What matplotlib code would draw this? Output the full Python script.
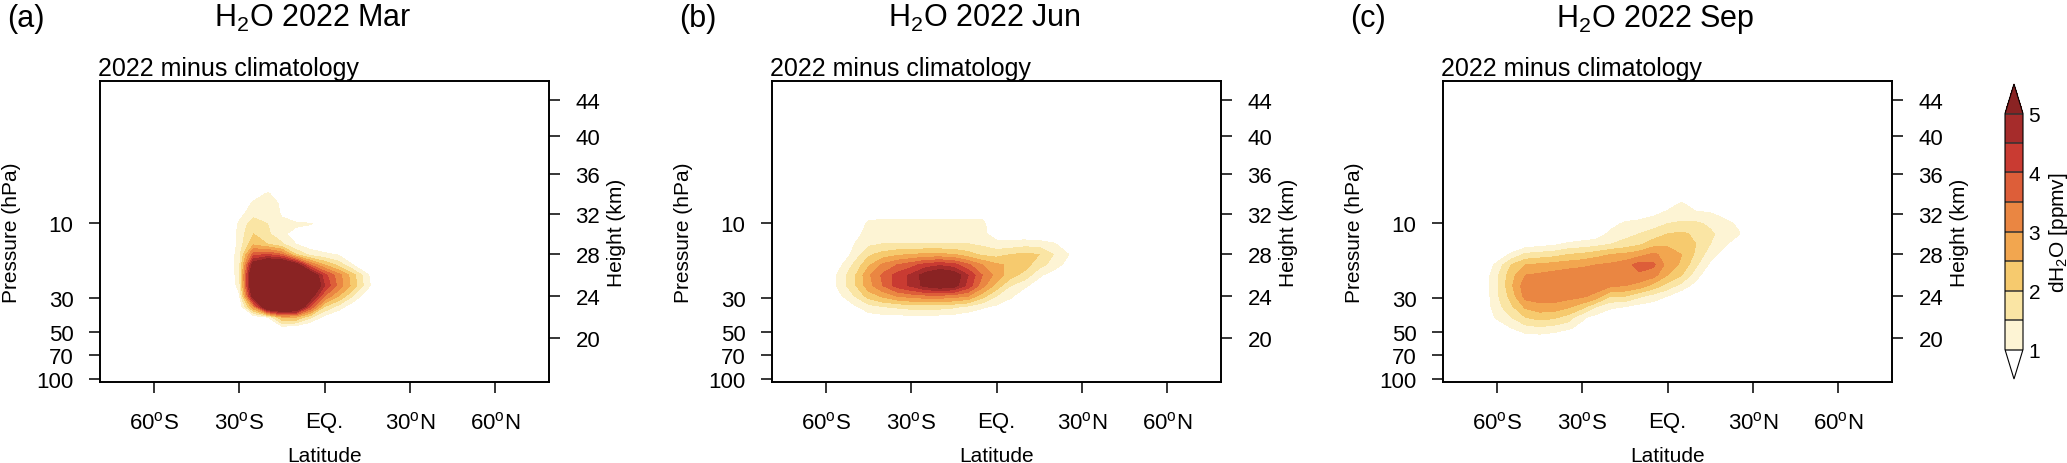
import numpy as np
import matplotlib
matplotlib.use('Agg')
import matplotlib.pyplot as plt
from matplotlib.colors import ListedColormap
from matplotlib.ticker import NullLocator

plt.rcParams['font.family'] = ['Liberation Sans', 'DejaVu Sans']
plt.rcParams['mathtext.fontset'] = 'custom'
plt.rcParams['mathtext.rm'] = 'Liberation Sans'
plt.rcParams['mathtext.it'] = 'Liberation Sans:italic'
plt.rcParams['mathtext.bf'] = 'Liberation Sans:bold'

# grid of the anomaly fields (ppmv): latitude columns, height rows (km, bottom to top)
lats = np.arange(-70, 40, 5)
heights = np.arange(19, 36)

# columns: -70 -65 -60 -55 -50 -45 -40 -35 -30 -25 -20 -15 -10 -5 0 5 10 15 20 25 30 35
dh2o_mar = [
    [0, 0, 0, 0, 0, 0, 0, 0, 0, 0, 0, 0, 0, 0, 0, 0, 0, 0, 0, 0, 0, 0],
    [0, 0, 0, 0, 0, 0, 0, 0, 0, 0, 0, 0, 0, 0, 0, 0, 0, 0, 0, 0, 0, 0],
    [0, 0, 0, 0, 0, 0, 0, 0, 0, 0, 0.3, 0.7, 0.6, 0.3, 0, 0, 0, 0, 0, 0, 0, 0],
    [0, 0, 0, 0, 0, 0, 0, 0, 0.2, 0.6, 1.0, 2.5, 2.5, 1.6, 0.8, 0.4, 0, 0, 0, 0, 0, 0],
    [0, 0, 0, 0, 0, 0, 0, 0, 0.5, 3.0, 6.5, 7.0, 6.5, 4.0, 2.0, 1.3, 0.6, 0.2, 0, 0, 0, 0],
    [0, 0, 0, 0, 0, 0, 0, 0.2, 0.9, 5.5, 8.0, 8.0, 7.5, 5.5, 3.5, 2.5, 1.5, 0.6, 0, 0, 0, 0],
    [0, 0, 0, 0, 0, 0, 0, 0.3, 1.2, 6.5, 8.0, 8.0, 8.0, 6.5, 4.5, 3.3, 2.3, 1.2, 0.3, 0, 0, 0],
    [0, 0, 0, 0, 0, 0, 0, 0.3, 1.3, 6.5, 8.0, 8.0, 7.5, 6.0, 4.2, 3.2, 2.2, 1.1, 0.3, 0, 0, 0],
    [0, 0, 0, 0, 0, 0, 0, 0.3, 1.3, 5.5, 6.5, 6.5, 5.5, 3.5, 2.5, 1.8, 1.0, 0.4, 0, 0, 0, 0],
    [0, 0, 0, 0, 0, 0, 0, 0.3, 1.3, 3.8, 4.0, 3.5, 2.0, 1.3, 1.1, 0.95, 0.5, 0, 0, 0, 0, 0],
    [0, 0, 0, 0, 0, 0, 0, 0.2, 1.2, 2.4, 2.0, 1.6, 1.0, 0.7, 0.6, 0.4, 0, 0, 0, 0, 0, 0],
    [0, 0, 0, 0, 0, 0, 0, 0.2, 1.2, 2.0, 1.6, 1.1, 0.8, 0.5, 0.3, 0, 0, 0, 0, 0, 0, 0],
    [0, 0, 0, 0, 0, 0, 0, 0.2, 1.1, 1.8, 1.5, 1.1, 1.1, 1.05, 0.7, 0, 0, 0, 0, 0, 0, 0],
    [0, 0, 0, 0, 0, 0, 0, 0, 0.8, 1.3, 1.3, 0.95, 0.5, 0, 0, 0, 0, 0, 0, 0, 0, 0],
    [0, 0, 0, 0, 0, 0, 0, 0, 0.5, 1.1, 1.3, 0.9, 0.3, 0, 0, 0, 0, 0, 0, 0, 0, 0],
    [0, 0, 0, 0, 0, 0, 0, 0, 0, 0.7, 1.05, 0.7, 0, 0, 0, 0, 0, 0, 0, 0, 0, 0],
    [0, 0, 0, 0, 0, 0, 0, 0, 0, 0, 0.5, 0, 0, 0, 0, 0, 0, 0, 0, 0, 0, 0],
]

dh2o_jun = [
    [0, 0, 0, 0, 0, 0, 0, 0, 0, 0, 0, 0, 0, 0, 0, 0, 0, 0, 0, 0, 0, 0],
    [0, 0, 0, 0, 0, 0, 0, 0, 0, 0, 0, 0, 0, 0, 0, 0, 0, 0, 0, 0, 0, 0],
    [0, 0, 0, 0, 0, 0, 0, 0, 0, 0, 0, 0, 0, 0, 0, 0, 0, 0, 0, 0, 0, 0],
    [0, 0, 0, 0, 0.3, 0.75, 0.8, 0.8, 0.85, 0.85, 0.8, 0.75, 0.6, 0.5, 0.3, 0.1, 0, 0, 0, 0, 0, 0],
    [0, 0, 0, 0.6, 0.9, 1.3, 1.5, 1.6, 1.7, 1.7, 1.7, 1.6, 1.4, 1.1, 0.9, 0.6, 0.3, 0, 0, 0, 0, 0],
    [0, 0, 0.2, 0.9, 1.5, 2.2, 2.6, 3.0, 3.2, 3.3, 3.3, 3.2, 3.0, 2.2, 1.5, 1.1, 0.6, 0.3, 0, 0, 0, 0],
    [0, 0, 0.4, 1.2, 1.9, 2.8, 3.5, 4.2, 4.6, 5.2, 5.5, 5.3, 4.3, 3.2, 2.3, 1.5, 1.1, 0.7, 0.3, 0, 0, 0],
    [0, 0, 0.4, 1.2, 1.9, 2.9, 3.6, 4.2, 4.6, 5.3, 5.8, 5.5, 4.5, 3.5, 2.8, 2.2, 1.8, 1.1, 0.7, 0.3, 0, 0],
    [0, 0, 0.3, 0.9, 1.6, 2.4, 3.1, 3.5, 3.8, 4.2, 4.4, 4.2, 3.6, 3.0, 2.6, 2.4, 2.2, 1.7, 1.3, 0.8, 0.2, 0],
    [0, 0, 0, 0.5, 1.2, 1.9, 2.2, 2.4, 2.5, 2.6, 2.6, 2.5, 2.2, 1.9, 1.8, 2.0, 2.1, 2.0, 1.5, 1.05, 0.3, 0],
    [0, 0, 0, 0.3, 1.0, 1.4, 1.52, 1.52, 1.52, 1.52, 1.52, 1.52, 1.52, 1.4, 1.2, 1.2, 1.3, 1.3, 1.1, 0.6, 0, 0],
    [0, 0, 0, 0, 0.8, 1.2, 1.25, 1.25, 1.25, 1.25, 1.25, 1.25, 1.25, 1.15, 0.7, 0.7, 0.6, 0.5, 0.3, 0, 0, 0],
    [0, 0, 0, 0, 0.6, 1.1, 1.15, 1.15, 1.15, 1.15, 1.15, 1.15, 1.15, 1.15, 0.5, 0, 0, 0, 0, 0, 0, 0],
    [0, 0, 0, 0, 0.3, 0.8, 0.8, 0.8, 0.8, 0.8, 0.8, 0.8, 0.8, 0.8, 0.3, 0, 0, 0, 0, 0, 0, 0],
    [0, 0, 0, 0, 0, 0, 0, 0, 0, 0, 0, 0, 0, 0, 0, 0, 0, 0, 0, 0, 0, 0],
    [0, 0, 0, 0, 0, 0, 0, 0, 0, 0, 0, 0, 0, 0, 0, 0, 0, 0, 0, 0, 0, 0],
    [0, 0, 0, 0, 0, 0, 0, 0, 0, 0, 0, 0, 0, 0, 0, 0, 0, 0, 0, 0, 0, 0],
]

dh2o_sep = [
    [0, 0, 0, 0, 0, 0, 0, 0, 0, 0, 0, 0, 0, 0, 0, 0, 0, 0, 0, 0, 0, 0],
    [0, 0, 0, 0.4, 0.7, 0.7, 0.6, 0.4, 0.2, 0, 0, 0, 0, 0, 0, 0, 0, 0, 0, 0, 0, 0],
    [0, 0.2, 0.6, 1.0, 1.3, 1.4, 1.3, 1.1, 0.8, 0.5, 0.2, 0, 0, 0, 0, 0, 0, 0, 0, 0, 0, 0],
    [0, 0.5, 1.1, 1.5, 2.0, 2.2, 2.1, 1.8, 1.1, 0.8, 0.6, 0.4, 0.2, 0, 0, 0, 0, 0, 0, 0, 0, 0],
    [0, 0.6, 1.3, 1.9, 2.6, 2.8, 2.8, 2.6, 2.2, 1.5, 1.1, 1.0, 0.8, 0.7, 0.4, 0, 0, 0, 0, 0, 0, 0],
    [0, 0.6, 1.4, 2.2, 3.2, 3.3, 3.3, 3.2, 3.1, 2.8, 2.0, 2.0, 1.6, 1.3, 1.0, 0.6, 0, 0, 0, 0, 0, 0],
    [0, 0.6, 1.4, 2.4, 3.3, 3.4, 3.4, 3.4, 3.4, 3.3, 3.1, 3.0, 2.8, 2.3, 1.8, 1.3, 0.8, 0, 0, 0, 0, 0],
    [0, 0.6, 1.4, 2.3, 3.0, 3.1, 3.2, 3.3, 3.3, 3.3, 3.4, 3.4, 3.4, 3.2, 2.5, 2.0, 1.2, 0.6, 0, 0, 0, 0],
    [0, 0.5, 1.15, 2.0, 2.5, 2.6, 2.7, 2.8, 2.9, 3.0, 3.1, 3.3, 3.7, 3.6, 2.8, 2.4, 1.6, 0.9, 0, 0, 0, 0],
    [0, 0.2, 0.6, 1.1, 1.6, 1.7, 1.8, 2.0, 2.1, 2.3, 2.5, 2.6, 2.8, 3.1, 2.8, 2.5, 1.9, 1.2, 0.8, 0, 0, 0],
    [0, 0, 0.2, 0.5, 0.7, 0.8, 0.9, 1.1, 1.2, 1.3, 1.5, 1.7, 1.9, 2.3, 2.4, 2.4, 2.0, 1.5, 1.1, 0.6, 0, 0],
    [0, 0, 0, 0, 0, 0, 0, 0.5, 0.6, 0.7, 1.15, 1.3, 1.5, 1.7, 2.0, 2.1, 1.9, 1.6, 1.3, 1.05, 0.5, 0],
    [0, 0, 0, 0, 0, 0, 0, 0, 0, 0, 0.8, 1.1, 1.2, 1.3, 1.5, 1.6, 1.6, 1.4, 1.2, 0.9, 0.3, 0],
    [0, 0, 0, 0, 0, 0, 0, 0, 0, 0, 0, 0.6, 0.7, 0.9, 1.1, 1.2, 1.1, 1.05, 0.8, 0.4, 0, 0],
    [0, 0, 0, 0, 0, 0, 0, 0, 0, 0, 0, 0, 0, 0, 0.8, 1.05, 0.7, 0.5, 0, 0, 0, 0],
    [0, 0, 0, 0, 0, 0, 0, 0, 0, 0, 0, 0, 0, 0, 0, 0.4, 0, 0, 0, 0, 0, 0],
    [0, 0, 0, 0, 0, 0, 0, 0, 0, 0, 0, 0, 0, 0, 0, 0, 0, 0, 0, 0, 0, 0],
]

panel_letters = ['(a)', '(b)', '(c)']
panel_months = ['Mar', 'Jun', 'Sep']
fields = [dh2o_mar, dh2o_jun, dh2o_sep]

levels = [1, 1.5, 2, 2.5, 3, 3.5, 4, 4.5, 5]
colors = ['#FDF4D4', '#FAE5A4', '#F6CA6E', '#F2A64F',
          '#EA8642', '#DD5E39', '#C93B32', '#A62C2B']
over_color = '#8A2323'

lat_ticks = [-60, -30, 0, 30, 60]
lat_labels = [r'60$^{\mathrm{o}}$S', r'30$^{\mathrm{o}}$S', 'EQ.',
              r'30$^{\mathrm{o}}$N', r'60$^{\mathrm{o}}$N']
p_ticks = [10, 30, 50, 70, 100]
z_ticks = [20, 24, 28, 32, 36, 40, 44]


# US standard atmosphere, pressure (hPa) at height z (km)
def std_pressure(z):
    z = np.asarray(z, dtype=float)
    p_low = 226.32 * np.exp(-34.1632 * (z - 11) / 216.65)
    p_mid = 54.7489 * (1 + (z - 20) / 216.65) ** (-34.1632)
    p_top = 8.68019 * (1 + 2.8 * (z - 32) / 228.65) ** (-34.1632 / 2.8)
    return np.where(z < 20, p_low, np.where(z <= 32, p_mid, p_top))


cmap = ListedColormap(colors)
cmap.set_under('white')
cmap.set_over(over_color)

W, H = 2067, 464
fig = plt.figure(figsize=(W / 100, H / 100), dpi=100)

ax_lefts = [100, 772, 1443]
ax_w, ax_bottom, ax_h = 449, 81, 301
pres = std_pressure(heights)

for i in range(3):
    left = ax_lefts[i]
    ax = fig.add_axes([left / W, ax_bottom / H, ax_w / W, ax_h / H])
    cs = ax.contourf(lats, pres, np.array(fields[i]), levels=levels,
                     cmap=cmap, extend='both')
    ax.set_yscale('log')
    ax.set_ylim(104, 1.23)
    ax.set_xlim(-79, 79)
    ax.set_xticks(lat_ticks)
    ax.set_xticklabels(lat_labels)
    ax.set_yticks(p_ticks)
    ax.set_yticklabels([str(p) for p in p_ticks])
    ax.yaxis.set_minor_locator(NullLocator())
    ax.tick_params(axis='x', direction='out', length=8, width=1.1, labelsize=16, pad=13)
    ax.tick_params(axis='y', direction='out', length=8, width=1.1, labelsize=16, pad=11)
    for s in ax.spines.values():
        s.set_linewidth(1.2)
    ax.set_xlabel('Latitude', fontsize=15)
    ax.xaxis.set_label_coords(0.5, -0.213)
    ax.xaxis.label.set_verticalalignment('top')
    ax.set_ylabel('Pressure (hPa)', fontsize=15)
    ax.yaxis.set_label_coords(-0.175, 0.5)
    ax.text(-0.005, 1.02, '2022 minus climatology', transform=ax.transAxes,
            ha='left', va='baseline', fontsize=18)

    # height axis on the right
    tw = ax.twinx()
    tw.set_yscale('log')
    tw.set_ylim(ax.get_ylim())
    tw.set_yticks(std_pressure(z_ticks))
    tw.set_yticklabels([str(z) for z in z_ticks])
    tw.yaxis.set_minor_locator(NullLocator())
    tw.tick_params(axis='y', direction='out', length=8, width=1.1, labelsize=16, pad=11)
    for s in tw.spines.values():
        s.set_linewidth(1.2)
    tw.set_ylabel('Height (km)', fontsize=15)
    tw.yaxis.set_label_coords(1.13, 0.5)

    cx = (left + ax_w / 2 - 12) / W
    fig.text(cx, 1 - 27 / H, r'H$_2$O 2022 ' + panel_months[i], ha='center',
             va='baseline', fontsize=22)
    fig.text((left - 93) / W, 1 - 27 / H, panel_letters[i], ha='left',
             va='baseline', fontsize=22)

cax = fig.add_axes([2005 / W, (H - 380) / H, 18 / W, 295 / H])
cb = fig.colorbar(cs, cax=cax, extend='both', extendfrac='auto',
                  drawedges=True, ticks=[1, 2, 3, 4, 5])
cb.ax.set_yticklabels(['1', '2', '3', '4', '5'])
cb.ax.tick_params(length=0, labelsize=15, pad=4)
cb.outline.set_linewidth(0.8)
cb.dividers.set_linewidth(1.1)
cb.dividers.set_color('#333333')
cb.set_label(r'dH$_2$O [ppmv]', fontsize=15, labelpad=5)

fig.savefig('out.png', dpi=100)
